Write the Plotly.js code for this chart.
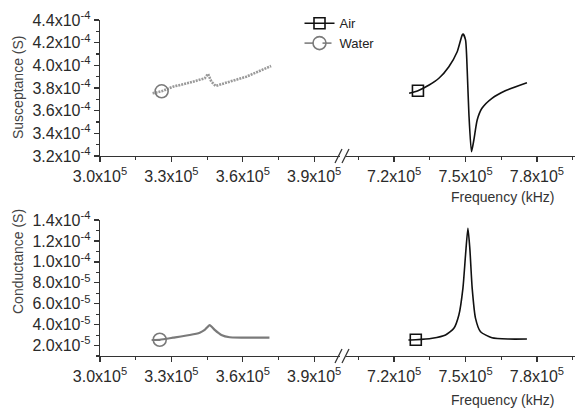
<!DOCTYPE html>
<html>
<head>
<meta charset="utf-8">
<script src="https://cdn.plot.ly/plotly-3.0.1.min.js"></script>
<style>
  html, body { margin: 0; padding: 0; background: #fff; }
  #chart { width: 575px; height: 410px; }
</style>
</head>
<body>
<div id="chart"></div>
<script>
// ---- data ----
const waterBFreq = [3.221e5, 3.259e5, 3.307e5, 3.377e5, 3.440e5, 3.454e5, 3.468e5, 3.486e5, 3.545e5, 3.615e5, 3.719e5];
const waterB     = [3.753e-4, 3.771e-4, 3.812e-4, 3.847e-4, 3.886e-4, 3.924e-4, 3.856e-4, 3.818e-4, 3.856e-4, 3.900e-4, 3.994e-4];

const airBFreq = [7.263e5, 7.300e5, 7.347e5, 7.388e5, 7.430e5, 7.465e5, 7.486e5, 7.490e5, 7.500e5, 7.507e5, 7.514e5, 7.525e5, 7.535e5, 7.549e5, 7.569e5, 7.611e5, 7.667e5, 7.758e5];
const airB     = [3.753e-4, 3.776e-4, 3.826e-4, 3.886e-4, 3.988e-4, 4.120e-4, 4.268e-4, 4.276e-4, 4.224e-4, 3.959e-4, 3.579e-4, 3.238e-4, 3.341e-4, 3.518e-4, 3.621e-4, 3.709e-4, 3.776e-4, 3.847e-4];

const waterGFreq = [3.217e5, 3.251e5, 3.307e5, 3.377e5, 3.419e5, 3.440e5, 3.461e5, 3.482e5, 3.510e5, 3.545e5, 3.712e5];
const waterG     = [2.53e-5, 2.55e-5, 2.75e-5, 3.01e-5, 3.23e-5, 3.49e-5, 3.96e-5, 3.49e-5, 3.01e-5, 2.79e-5, 2.75e-5];

const airGFreq = [7.260e5, 7.291e5, 7.360e5, 7.416e5, 7.451e5, 7.472e5, 7.489e5, 7.500e5, 7.510e5, 7.518e5, 7.528e5, 7.542e5, 7.563e5, 7.611e5, 7.681e5, 7.758e5];
const airG     = [2.53e-5, 2.55e-5, 2.69e-5, 3.01e-5, 3.65e-5, 4.92e-5, 7.47e-5, 1.065e-4, 1.321e-4, 1.129e-4, 7.47e-5, 4.6e-5, 3.32e-5, 2.75e-5, 2.62e-5, 2.62e-5];

const markerIdx = 1;   // index of the point carrying the series symbol

const xTicksLeft  = [3.0e5, 3.3e5, 3.6e5, 3.9e5];
const xTicksRight = [7.2e5, 7.5e5, 7.8e5];
const xLabelsLeft  = ['3.0x10<sup>5</sup>', '3.3x10<sup>5</sup>', '3.6x10<sup>5</sup>', '3.9x10<sup>5</sup>'];
const xLabelsRight = ['7.2x10<sup>5</sup>', '7.5x10<sup>5</sup>', '7.8x10<sup>5</sup>'];

const yTicksB  = [3.2e-4, 3.4e-4, 3.6e-4, 3.8e-4, 4.0e-4, 4.2e-4, 4.4e-4];
const yLabelsB = ['3.2x10<sup>-4</sup>', '3.4x10<sup>-4</sup>', '3.6x10<sup>-4</sup>', '3.8x10<sup>-4</sup>', '4.0x10<sup>-4</sup>', '4.2x10<sup>-4</sup>', '4.4x10<sup>-4</sup>'];
const yTicksG  = [2e-5, 4e-5, 6e-5, 8e-5, 1.0e-4, 1.2e-4, 1.4e-4];
const yLabelsG = ['2.0x10<sup>-5</sup>', '4.0x10<sup>-5</sup>', '6.0x10<sup>-5</sup>', '8.0x10<sup>-5</sup>', '1.0x10<sup>-4</sup>', '1.2x10<sup>-4</sup>', '1.4x10<sup>-4</sup>'];

const xRangeLeft  = [3.0e5, 4.018e5];
const xRangeRight = [6.982e5, 7.96e5];
const yRangeB = [3.2e-4, 4.4e-4];
const yRangeG = [1.0e-5, 1.4e-4];

// ---- styles ----
const FONT = 'Arial, "Liberation Sans", sans-serif';
const AIR = '#111111';
const WATER_B = '#9a9a9a';
const WATER_G = '#7a7a7a';
const splitX = (xRangeLeft[1] - xRangeLeft[0]) / ((xRangeLeft[1] - xRangeLeft[0]) + (xRangeRight[1] - xRangeRight[0]));

const traces = [
  // top panel
  {x: waterBFreq, y: waterB, xaxis: 'x', yaxis: 'y', mode: 'lines', showlegend: false,
   line: {color: WATER_B, width: 2.6, dash: '2px,1px'}},
  {x: airBFreq, y: airB, xaxis: 'x2', yaxis: 'y', mode: 'lines', showlegend: false,
   line: {color: AIR, width: 1.6, shape: 'spline', smoothing: 0.6}},
  {x: [airBFreq[markerIdx]], y: [airB[markerIdx]], xaxis: 'x2', yaxis: 'y', mode: 'lines+markers', name: 'Air',
   line: {color: AIR, width: 1.6},
   marker: {symbol: 'square-open', size: 11, color: AIR, line: {width: 1.6, color: AIR}}},
  {x: [waterBFreq[markerIdx]], y: [waterB[markerIdx]], xaxis: 'x', yaxis: 'y', mode: 'lines+markers', name: 'Water',
   line: {color: '#8a8a8a', width: 1.6, dash: 'dash'},
   marker: {symbol: 'circle-open', size: 13, color: '#7a7a7a', line: {width: 1.6, color: '#7a7a7a'}}},
  // bottom panel
  {x: waterGFreq, y: waterG, xaxis: 'x3', yaxis: 'y2', mode: 'lines', showlegend: false,
   line: {color: WATER_G, width: 2.2, shape: 'spline', smoothing: 0.5}},
  {x: airGFreq, y: airG, xaxis: 'x4', yaxis: 'y2', mode: 'lines', showlegend: false,
   line: {color: AIR, width: 1.6, shape: 'spline', smoothing: 0.6}},
  {x: [airGFreq[markerIdx]], y: [airG[markerIdx]], xaxis: 'x4', yaxis: 'y2', mode: 'markers', showlegend: false,
   marker: {symbol: 'square-open', size: 11, color: AIR, line: {width: 1.6, color: AIR}}},
  {x: [waterGFreq[markerIdx]], y: [waterG[markerIdx]], xaxis: 'x3', yaxis: 'y2', mode: 'markers', showlegend: false,
   marker: {symbol: 'circle-open', size: 13, color: '#7a7a7a', line: {width: 1.6, color: '#7a7a7a'}}}
];

function xAxis(domain, range, tickvals, ticktext, anchor) {
  return {
    domain: domain, range: range, anchor: anchor,
    tickmode: 'array', tickvals: tickvals, ticktext: ticktext,
    ticks: 'outside', ticklen: 5, tickwidth: 1.3, tickcolor: '#333',
    minor: {dtick: 15000, tick0: 0, ticks: 'outside', ticklen: 3, tickwidth: 1.1, tickcolor: '#333'},
    showline: true, linecolor: '#333', linewidth: 1.4,
    showgrid: false, zeroline: false,
    tickfont: {family: FONT, size: 16, color: '#2a2a2a'}
  };
}
function yAxis(domain, range, tickvals, ticktext, anchor, minorDtick) {
  return {
    domain: domain, range: range, anchor: anchor,
    tickmode: 'array', tickvals: tickvals, ticktext: ticktext,
    ticks: 'outside', ticklen: 5, tickwidth: 1.3, tickcolor: '#333',
    minor: {dtick: minorDtick, tick0: 0, ticks: 'outside', ticklen: 3, tickwidth: 1.1, tickcolor: '#333'},
    showline: true, linecolor: '#333', linewidth: 1.4,
    showgrid: false, zeroline: false,
    tickfont: {family: FONT, size: 16, color: '#2a2a2a'}
  };
}

const topDom = [200 / 336, 1];
const botDom = [0, 136 / 336];

// break marks ("//") on each broken axis, in paper coordinates
function breakShapes(yPix) {
  const px = (p) => (p - 100) / 475;
  const py = (p) => (356 - p) / 336;
  const c = 343;
  return [
    {type: 'rect', xref: 'paper', yref: 'paper', x0: px(c - 3), x1: px(c + 3), y0: py(yPix + 2), y1: py(yPix - 2),
     fillcolor: '#fff', line: {width: 0}},
    {type: 'line', xref: 'paper', yref: 'paper', x0: px(c - 8), y0: py(yPix + 7), x1: px(c - 1), y1: py(yPix - 7),
     line: {color: '#333', width: 1.3}},
    {type: 'line', xref: 'paper', yref: 'paper', x0: px(c - 1), y0: py(yPix + 7), x1: px(c + 6), y1: py(yPix - 7),
     line: {color: '#333', width: 1.3}}
  ];
}

const layout = {
  width: 575, height: 410,
  margin: {l: 100, r: 0, t: 20, b: 54},
  paper_bgcolor: '#fff', plot_bgcolor: 'rgba(0,0,0,0)',
  showlegend: true,
  legend: {x: 0.42, y: 1.035, xanchor: 'left', yanchor: 'top', bgcolor: 'rgba(0,0,0,0)',
           font: {family: FONT, size: 13, color: '#222'}, tracegroupgap: 0, itemwidth: 30},
  xaxis:  xAxis([0, splitX], xRangeLeft, xTicksLeft, xLabelsLeft, 'y'),
  xaxis2: xAxis([splitX, 1], xRangeRight, xTicksRight, xLabelsRight, 'y'),
  xaxis3: xAxis([0, splitX], xRangeLeft, xTicksLeft, xLabelsLeft, 'y2'),
  xaxis4: xAxis([splitX, 1], xRangeRight, xTicksRight, xLabelsRight, 'y2'),
  yaxis:  yAxis(topDom, yRangeB, yTicksB, yLabelsB, 'x', 1e-5),
  yaxis2: yAxis(botDom, yRangeG, yTicksG, yLabelsG, 'x3', 1e-5),
  shapes: breakShapes(156).concat(breakShapes(356)),
  annotations: [
    {text: 'Susceptance (S)', xref: 'paper', yref: 'paper', x: (18 - 100) / 475, y: (356 - 87) / 336,
     xanchor: 'center', yanchor: 'middle', textangle: -90, showarrow: false,
     font: {family: FONT, size: 14, color: '#444'}},
    {text: 'Conductance (S)', xref: 'paper', yref: 'paper', x: (18 - 100) / 475, y: (356 - 262) / 336,
     xanchor: 'center', yanchor: 'middle', textangle: -90, showarrow: false,
     font: {family: FONT, size: 14, color: '#444'}},
    {text: 'Frequency (kHz)', xref: 'paper', yref: 'paper', x: (502 - 100) / 475, y: (356 - 197) / 336,
     xanchor: 'center', yanchor: 'middle', showarrow: false,
     font: {family: FONT, size: 14, color: '#333'}},
    {text: 'Frequency (kHz)', xref: 'paper', yref: 'paper', x: (502 - 100) / 475, y: (356 - 400) / 336,
     xanchor: 'center', yanchor: 'middle', showarrow: false,
     font: {family: FONT, size: 14, color: '#333'}}
  ]
};

Plotly.newPlot('chart', traces, layout, {displayModeBar: false, staticPlot: true});
</script>
</body>
</html>
